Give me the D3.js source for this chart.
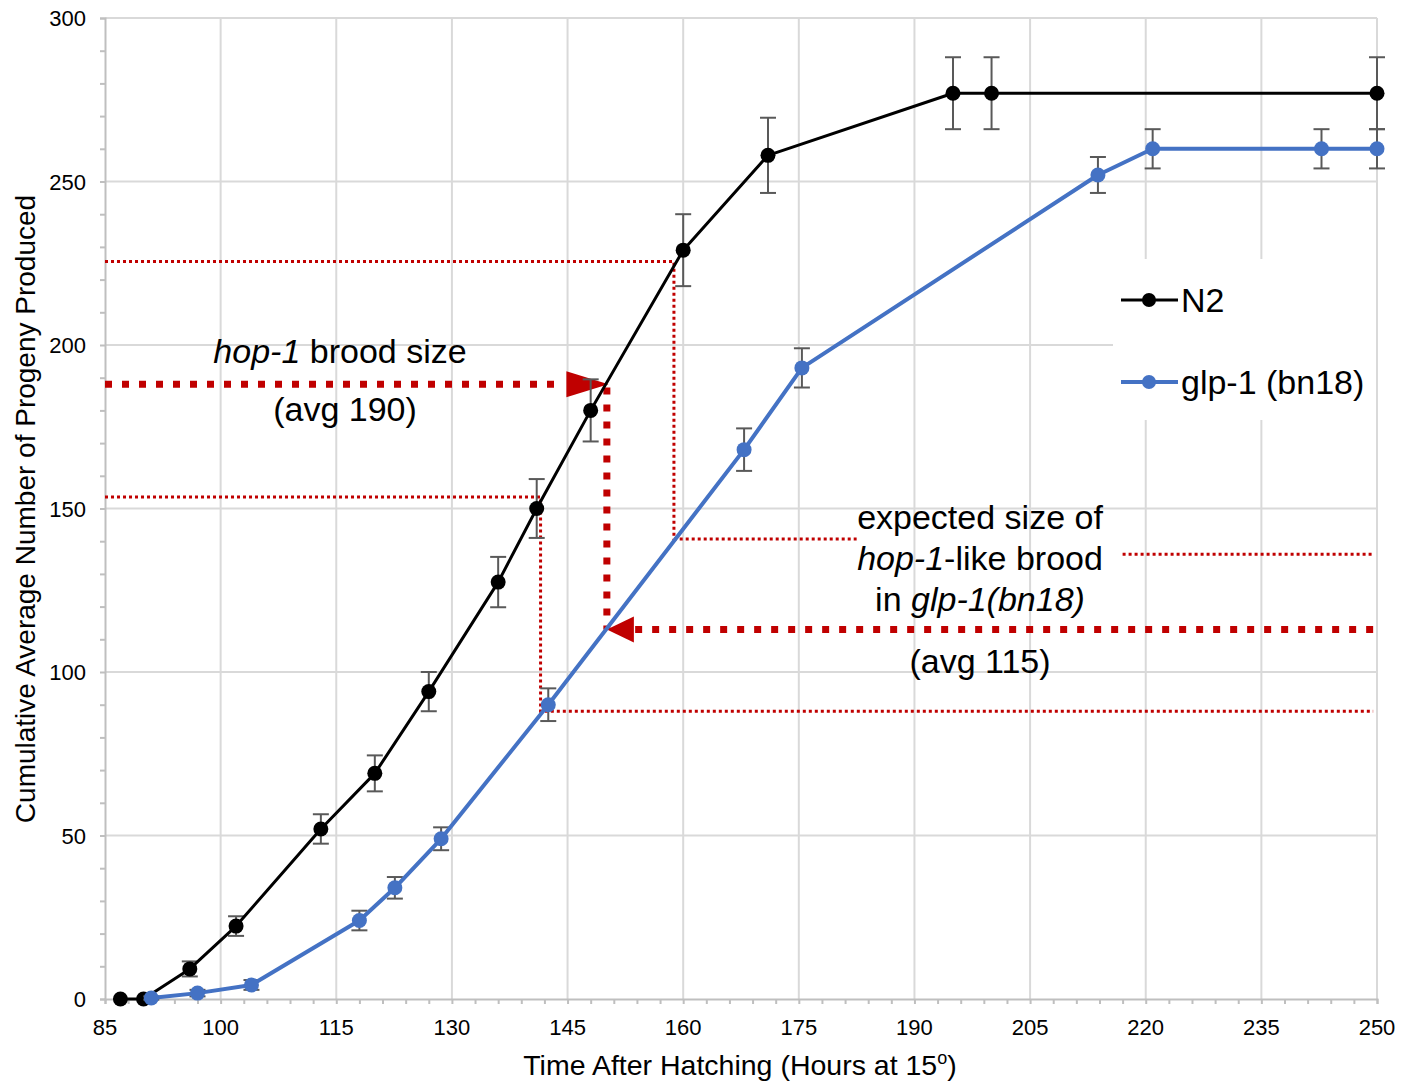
<!DOCTYPE html>
<html>
<head>
<meta charset="utf-8">
<script src="https://cdn.jsdelivr.net/npm/d3@7"></script>
<style>
  body { margin: 0; background: #fff; }
  text { font-family: Arial, "Liberation Sans", sans-serif; fill: #000; }
</style>
</head>
<body>
<svg class="chart"></svg>
<script>
// N2 series
let n2Hours = [87, 90, 96, 102, 113, 120, 127, 136, 141, 148, 160, 171, 195, 200, 250];
let n2Mean  = [0, 0, 9.2, 22.3, 52, 69, 94, 127.5, 150, 180, 229, 258, 277, 277, 277];
let n2Err   = [0, 0, 2.3, 3, 4.5, 5.5, 6, 7.7, 9, 9.5, 11, 11.5, 11, 11, 11];

// glp-1 (bn18) series
let glpHours = [91, 97, 104, 118, 122.6, 128.6, 142.5, 167.9, 175.4, 213.8, 220.9, 242.8, 250];
let glpMean  = [0.3, 1.8, 4.3, 24, 34, 49, 90, 168, 193, 252, 260, 260, 260];
let glpErr   = [0.5, 1, 1.5, 3, 3.3, 3.5, 5, 6.5, 6, 5.5, 6, 6, 6];

let xTicks = [85, 100, 115, 130, 145, 160, 175, 190, 205, 220, 235, 250];
let yTicks = [0, 50, 100, 150, 200, 250, 300];

let width  = 1411;
let height = 1083;
let margin = {left: 105, right: 34, top: 18, bottom: 84};

let svg = d3.select(".chart").attr("width", width).attr("height", height);
let x = d3.scaleLinear().domain([85, 250]).range([margin.left, width - margin.right]);
let y = d3.scaleLinear().domain([0, 300]).range([height - margin.bottom, margin.top]);

// gridlines
svg.append("g")
  .selectAll("line")
  .data(xTicks.slice(1))
  .join("line")
  .attr("x1", d => x(d)).attr("x2", d => x(d))
  .attr("y1", y(0)).attr("y2", y(300))
  .attr("stroke", "#d9d9d9").attr("stroke-width", 2);

svg.append("g")
  .selectAll("line")
  .data(yTicks.slice(1))
  .join("line")
  .attr("x1", x(85)).attr("x2", x(250))
  .attr("y1", d => y(d)).attr("y2", d => y(d))
  .attr("stroke", "#d9d9d9").attr("stroke-width", 2);

// axes (minor ticks only, labels drawn below)
let xAxis = svg.append("g")
  .attr("transform", "translate(0," + y(0) + ")")
  .call(d3.axisBottom(x).tickValues(d3.range(85, 251, 3)).tickSize(5).tickFormat(""));
let yAxis = svg.append("g")
  .attr("transform", "translate(" + x(85) + ",0)")
  .call(d3.axisLeft(y).tickValues(d3.range(0, 301, 10)).tickSize(5).tickFormat(""));
[xAxis, yAxis].forEach(function(g) {
  g.selectAll("path, line").attr("stroke", "#bfbfbf").attr("stroke-width", 2);
});

svg.append("g")
  .selectAll("text")
  .data(xTicks)
  .join("text")
  .attr("x", d => x(d))
  .attr("y", y(0) + 36)
  .attr("text-anchor", "middle")
  .attr("font-size", 22)
  .text(d => d);

svg.append("g")
  .selectAll("text")
  .data(yTicks)
  .join("text")
  .attr("x", x(85) - 19)
  .attr("y", d => y(d) + 8)
  .attr("text-anchor", "end")
  .attr("font-size", 22)
  .text(d => d);

// axis titles
let xTitle = svg.append("text")
  .attr("x", 740)
  .attr("y", 1075)
  .attr("text-anchor", "middle")
  .attr("font-size", 28.5);
xTitle.append("tspan").text("Time After Hatching (Hours at 15");
xTitle.append("tspan").attr("dy", -11).attr("font-size", 18).text("o");
xTitle.append("tspan").attr("dy", 11).text(")");

svg.append("text")
  .attr("transform", "translate(35,509) rotate(-90)")
  .attr("text-anchor", "middle")
  .attr("font-size", 28)
  .text("Cumulative Average Number of Progeny Produced");

// annotation guides (thin dotted) in data units
let red = "#c00000";
let thinGuides = [
  [[85, 225.5], [158.8, 225.5], [158.8, 140.7], [182.5, 140.7]],
  [[85, 153.5], [141.5, 153.5], [141.5, 88], [249.5, 88]],
  [[217, 136], [249.5, 136]]
];
let line = d3.line().x(d => x(d[0])).y(d => y(d[1]));

svg.append("g")
  .selectAll("path")
  .data(thinGuides)
  .join("path")
  .attr("d", line)
  .attr("fill", "none")
  .attr("stroke", red)
  .attr("stroke-width", 3)
  .attr("stroke-dasharray", "3,3");

// thick dotted arrows
let arrowX = 150.1;
let thickLines = [
  [[85, 188], [144.5, 188]],
  [[arrowX, 187], [arrowX, 113]],
  [[249.5, 113], [153.5, 113]]
];
svg.append("g")
  .selectAll("path")
  .data(thickLines)
  .join("path")
  .attr("d", line)
  .attr("fill", "none")
  .attr("stroke", red)
  .attr("stroke-width", 7)
  .attr("stroke-dasharray", "7,10");

function arrowHead(tip, dir, len) {
  let tx = x(tip[0]), ty = y(tip[1]);
  let half = 13;
  let pts = [[tx, ty], [tx - dir * len, ty - half], [tx - dir * len, ty + half]];
  svg.append("polygon")
    .attr("points", pts.map(p => p.join(",")).join(" "))
    .attr("fill", red);
}
arrowHead([arrowX + 0.2, 188], 1, 42);
arrowHead([arrowX, 113], -1, 27);

// annotation labels
function label(px, py, parts) {
  let t = svg.append("text")
    .attr("x", px).attr("y", py)
    .attr("text-anchor", "middle")
    .attr("font-size", 34);
  parts.forEach(function(p) {
    t.append("tspan").attr("font-style", p[1] ? "italic" : "normal").text(p[0]);
  });
}
label(340, 363, [["hop-1", true], [" brood size", false]]);
label(345, 421, [["(avg 190)", false]]);
label(980, 529, [["expected size of", false]]);
label(980, 570, [["hop-1", true], ["-like brood", false]]);
label(980, 611, [["in ", false], ["glp-1(bn18)", true]]);
label(980, 673, [["(avg 115)", false]]);

// series with error bars
function drawSeries(hours, mean, err, color, lw) {
  let pts = hours.map((h, i) => ({h: h, m: mean[i], e: err[i]}));
  let g = svg.append("g");
  let eb = g.selectAll("g").data(pts.filter(d => d.e > 0)).join("g");
  eb.append("line")
    .attr("x1", d => x(d.h)).attr("x2", d => x(d.h))
    .attr("y1", d => y(d.m - d.e)).attr("y2", d => y(d.m + d.e))
    .attr("stroke", "#595959").attr("stroke-width", 2);
  eb.selectAll("line.cap")
    .data(d => [d.m - d.e, d.m + d.e].map(v => ({h: d.h, v: v})))
    .join("line")
    .attr("class", "cap")
    .attr("x1", d => x(d.h) - 8).attr("x2", d => x(d.h) + 8)
    .attr("y1", d => y(d.v)).attr("y2", d => y(d.v))
    .attr("stroke", "#595959").attr("stroke-width", 2);

  g.append("path")
    .attr("d", d3.line().x(d => x(d.h)).y(d => y(d.m))(pts))
    .attr("fill", "none")
    .attr("stroke", color)
    .attr("stroke-width", lw)
    .attr("stroke-linejoin", "round");

  g.selectAll("circle")
    .data(pts)
    .join("circle")
    .attr("cx", d => x(d.h))
    .attr("cy", d => y(d.m))
    .attr("r", 7.5)
    .attr("fill", color);
}
drawSeries(n2Hours, n2Mean, n2Err, "#000000", 3);
drawSeries(glpHours, glpMean, glpErr, "#4472c4", 4);

// legend
let legend = svg.append("g");
legend.append("rect")
  .attr("x", 1113).attr("y", 259)
  .attr("width", 263).attr("height", 161)
  .attr("fill", "#fff");
let legendItems = [
  {name: "N2", color: "#000000", lw: 3, cy: 300},
  {name: "glp-1 (bn18)", color: "#4472c4", lw: 4, cy: 382}
];
legendItems.forEach(function(d) {
  legend.append("line")
    .attr("x1", 1121).attr("x2", 1178)
    .attr("y1", d.cy).attr("y2", d.cy)
    .attr("stroke", d.color).attr("stroke-width", d.lw);
  legend.append("circle")
    .attr("cx", 1149).attr("cy", d.cy).attr("r", 7)
    .attr("fill", d.color);
  legend.append("text")
    .attr("x", 1181).attr("y", d.cy + 12)
    .attr("font-size", 34)
    .text(d.name);
});
</script>
</body>
</html>
